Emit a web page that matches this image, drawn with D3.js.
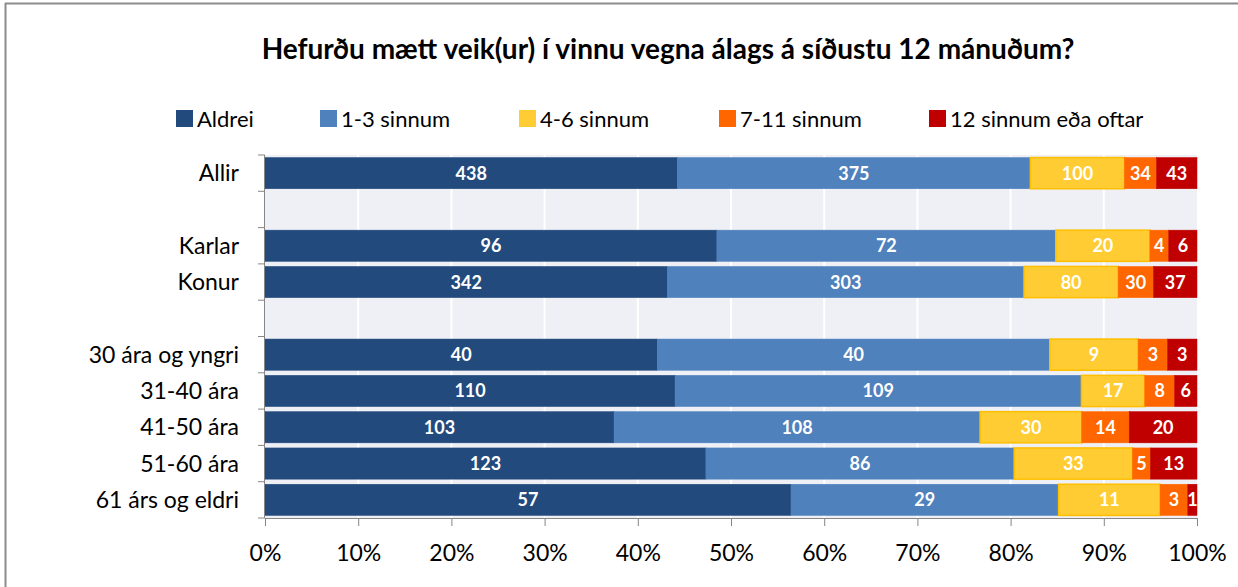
<!DOCTYPE html>
<html>
<head>
<meta charset="utf-8">
<script src="https://cdn.jsdelivr.net/npm/d3@7"></script>
<style>
  html, body { margin: 0; padding: 0; background: #fff; }
  svg { display: block; }
  text { font-family: Lato, "Open Sans", sans-serif; }
</style>
</head>
<body>
<svg id="chart" width="1238" height="587"></svg>
<script>
// Rows of the chart (empty strings are spacer rows)
const categories = ["Allir", "", "Karlar", "Konur", "", "30 ára og yngri", "31-40 ára", "41-50 ára", "51-60 ára", "61 árs og eldri"];
const seriesNames = ["Aldrei", "1-3 sinnum", "4-6 sinnum", "7-11 sinnum", "12 sinnum eða oftar"];
const aldrei   = [438, null, 96, 342, null, 40, 110, 103, 123, 57];
const sinnum13 = [375, null, 72, 303, null, 40, 109, 108, 86, 29];
const sinnum46 = [100, null, 20, 80, null, 9, 17, 30, 33, 11];
const sinnum711 = [34, null, 4, 30, null, 3, 8, 14, 5, 3];
const sinnum12 = [43, null, 6, 37, null, 3, 6, 20, 13, 1];
const tickValues = [0, 0.1, 0.2, 0.3, 0.4, 0.5, 0.6, 0.7, 0.8, 0.9, 1.0];
const titleText = "Hefurðu mætt veik(ur) í vinnu vegna álags á síðustu 12 mánuðum?";

const colors = ["#234a7d", "#4f81bd", "#ffcc33", "#ff6600", "#c00000"];
const strokes = ["#234a7d", "#4f81bd", "#ffbf00", "#ff6600", "#c00000"];
const series = [aldrei, sinnum13, sinnum46, sinnum711, sinnum12];

const svg = d3.select("#chart");

// outer frame
svg.append("line").attr("x1", 5).attr("x2", 1238).attr("y1", 3.5).attr("y2", 3.5).attr("stroke", "#8c8c8c").attr("stroke-width", 2);
svg.append("line").attr("x1", 5.5).attr("x2", 5.5).attr("y1", 3).attr("y2", 587).attr("stroke", "#8c8c8c").attr("stroke-width", 2);

const plot = { left: 265, right: 1197, top: 155, bottom: 518 };

const x = d3.scaleLinear().domain([0, 1]).range([plot.left, plot.right]);
const y = d3.scaleBand().domain(d3.range(categories.length)).range([plot.top, plot.bottom]).paddingInner(0.14).paddingOuter(0.07);
const yEdges = d3.scaleBand().domain(d3.range(categories.length)).range([plot.top, plot.bottom]);

// title
svg.append("text").attr("x", 668).attr("y", 59).attr("text-anchor", "middle")
  .attr("font-size", 28).attr("font-weight", "bold").attr("fill", "#000").text(titleText);

// legend
const legendX = [176, 320, 519, 719, 929];
const lg = svg.append("g");
seriesNames.forEach((name, i) => {
  lg.append("rect").attr("x", legendX[i]).attr("y", 110).attr("width", 17).attr("height", 17).attr("fill", colors[i]);
  lg.append("text").attr("x", legendX[i] + 21).attr("y", 127).attr("font-size", 22).attr("fill", "#000").text(name);
});

// plot background
svg.append("rect").attr("x", plot.left).attr("y", plot.top).attr("width", plot.right - plot.left).attr("height", plot.bottom - plot.top).attr("fill", "#eef0f5");

// vertical gridlines
svg.append("g").selectAll("line").data(tickValues.slice(1, -1)).join("line")
  .attr("x1", d => x(d)).attr("x2", d => x(d)).attr("y1", plot.top).attr("y2", plot.bottom)
  .attr("stroke", "#ffffff").attr("stroke-width", 2);

// stacked 100% bars
const rows = categories.map((c, i) => {
  const vals = series.map(s => s[i]);
  return { i, vals, total: vals[0] == null ? 0 : d3.sum(vals) };
}).filter(r => r.total > 0);

const barG = svg.append("g");
rows.forEach(r => {
  let acc = 0;
  r.vals.forEach((v, k) => {
    const x0 = x(acc / r.total), x1 = x((acc + v) / r.total);
    acc += v;
    barG.append("rect").attr("x", x0).attr("y", y(r.i)).attr("width", x1 - x0).attr("height", y.bandwidth())
      .attr("fill", colors[k]).attr("stroke", strokes[k]).attr("stroke-width", k === 2 ? 1.5 : 0.5);
    barG.append("text").attr("x", (x0 + x1) / 2).attr("y", y(r.i) + y.bandwidth() / 2 + 6.5)
      .attr("text-anchor", "middle").attr("font-size", 18).attr("font-weight", "bold").attr("fill", "#fff").text(v);
  });
});

// y axis
const yAxis = svg.append("g");
yAxis.append("line").attr("x1", plot.left - 0.5).attr("x2", plot.left - 0.5).attr("y1", plot.top).attr("y2", plot.bottom).attr("stroke", "#868686");
yAxis.selectAll("line.tick").data(d3.range(categories.length + 1)).join("line").attr("class", "tick")
  .attr("x1", plot.left - 7).attr("x2", plot.left).attr("y1", d => plot.top + d * yEdges.step()).attr("y2", d => plot.top + d * yEdges.step())
  .attr("stroke", "#868686");
yAxis.selectAll("text").data(categories.map((c, i) => ({ c, i })).filter(d => d.c)).join("text")
  .attr("x", 239).attr("y", d => yEdges(d.i) + yEdges.bandwidth() / 2 + 8).attr("text-anchor", "end")
  .attr("font-size", 23).attr("fill", "#000").text(d => d.c);

// x axis
const xAxis = d3.axisBottom(x).tickValues(tickValues).tickFormat(d3.format(".0%")).tickSize(8).tickPadding(19);
const xg = svg.append("g").attr("transform", `translate(0,${plot.bottom})`).call(xAxis);
xg.select(".domain").attr("stroke", "#868686");
xg.selectAll(".tick line").attr("stroke", "#868686");
xg.selectAll(".tick text").attr("font-size", 23).attr("fill", "#000").attr("font-family", "Lato, 'Open Sans', sans-serif");
</script>
</body>
</html>
